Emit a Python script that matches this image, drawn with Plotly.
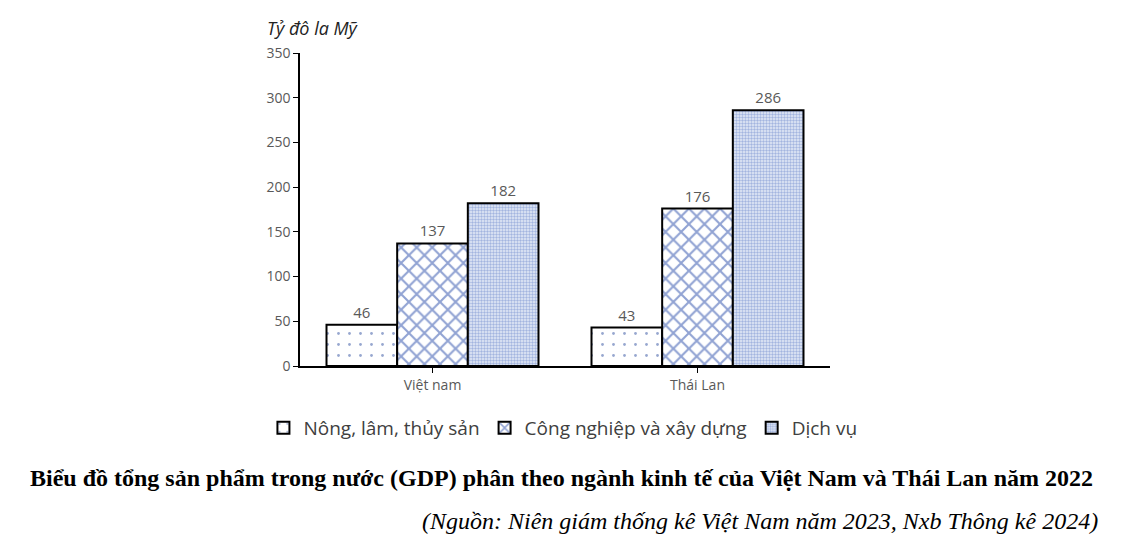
import plotly.graph_objects as go

categories = ["Việt nam", "Thái Lan"]
series_names = ["Nông, lâm, thủy sản", "Công nghiệp và xây dựng", "Dịch vụ"]
nong_lam = [46, 43]
cong_nghiep = [137, 176]
dich_vu = [182, 286]
y_ticks = [0, 50, 100, 150, 200, 250, 300, 350]

values = [nong_lam, cong_nghiep, dich_vu]
patterns = [
    dict(shape=".", fgcolor="#2f4fa0", bgcolor="white", size=11, solidity=0.05, fillmode="overlay"),
    dict(shape="x", fgcolor="#2448a8", bgcolor="white", size=11, solidity=0.35, fillmode="overlay"),
    dict(shape=".", fgcolor="#5f7fc8", bgcolor="#e6ebf7", size=3, solidity=0.5, fillmode="overlay"),
]

FONT = "Open Sans, Liberation Sans, sans-serif"
SERIF = "Liberation Serif, Times New Roman, serif"

fig = go.Figure()
for name, vals, pat in zip(series_names, values, patterns):
    fig.add_trace(go.Bar(
        x=categories, y=vals, name=name,
        marker=dict(color="white", line=dict(color="black", width=2), pattern=pat),
        text=[str(v) for v in vals], textposition="outside",
        textfont=dict(family=FONT, size=15, color="#595959"),
        cliponaxis=False,
    ))

fig.update_layout(
    width=1122, height=540,
    paper_bgcolor="white", plot_bgcolor="white",
    margin=dict(l=292, r=300, t=45, b=182),
    barmode="group", bargap=0.2, bargroupgap=0,
    font=dict(family=FONT, color="#595959"),
    showlegend=True,
    legend=dict(orientation="h", x=-0.069, xanchor="left", y=-0.198, yanchor="middle",
                font=dict(size=19, color="#404040", family=FONT),
                itemwidth=30, tracegroupgap=0),
)
fig.update_xaxes(showline=True, linecolor="black", linewidth=1.5, ticks="outside", ticklen=5,
                 tickcolor="black", tickfont=dict(size=14, color="#595959"), showgrid=False)
fig.update_yaxes(range=[0, 350], tickvals=y_ticks, showline=True, linecolor="black", linewidth=1.5,
                 ticks="outside", ticklen=5, tickcolor="black", showgrid=False, zeroline=False,
                 tickfont=dict(size=14, color="#595959"))

fig.add_annotation(text="<i>Tỷ đô la Mỹ</i>", xref="paper", yref="paper", x=-0.066, y=1.08,
                   xanchor="left", yanchor="middle", showarrow=False,
                   font=dict(size=18, color="#222222", family=FONT))
fig.add_annotation(text="<b>Biểu đồ tổng sản phẩm trong nước (GDP) phân theo ngành kinh tế của Việt Nam và Thái Lan năm 2022</b>",
                   xref="paper", yref="paper", x=0.4925, y=-0.358, xanchor="center", yanchor="middle",
                   showarrow=False, font=dict(size=24, color="black", family=SERIF))
fig.add_annotation(text="<i>(Nguồn: Niên giám thống kê Việt Nam năm 2023, Nxb Thông kê 2024)</i>",
                   xref="paper", yref="paper", x=1.509, y=-0.495, xanchor="right", yanchor="middle",
                   showarrow=False, font=dict(size=24, color="black", family=SERIF))

fig.write_html("out.html")
